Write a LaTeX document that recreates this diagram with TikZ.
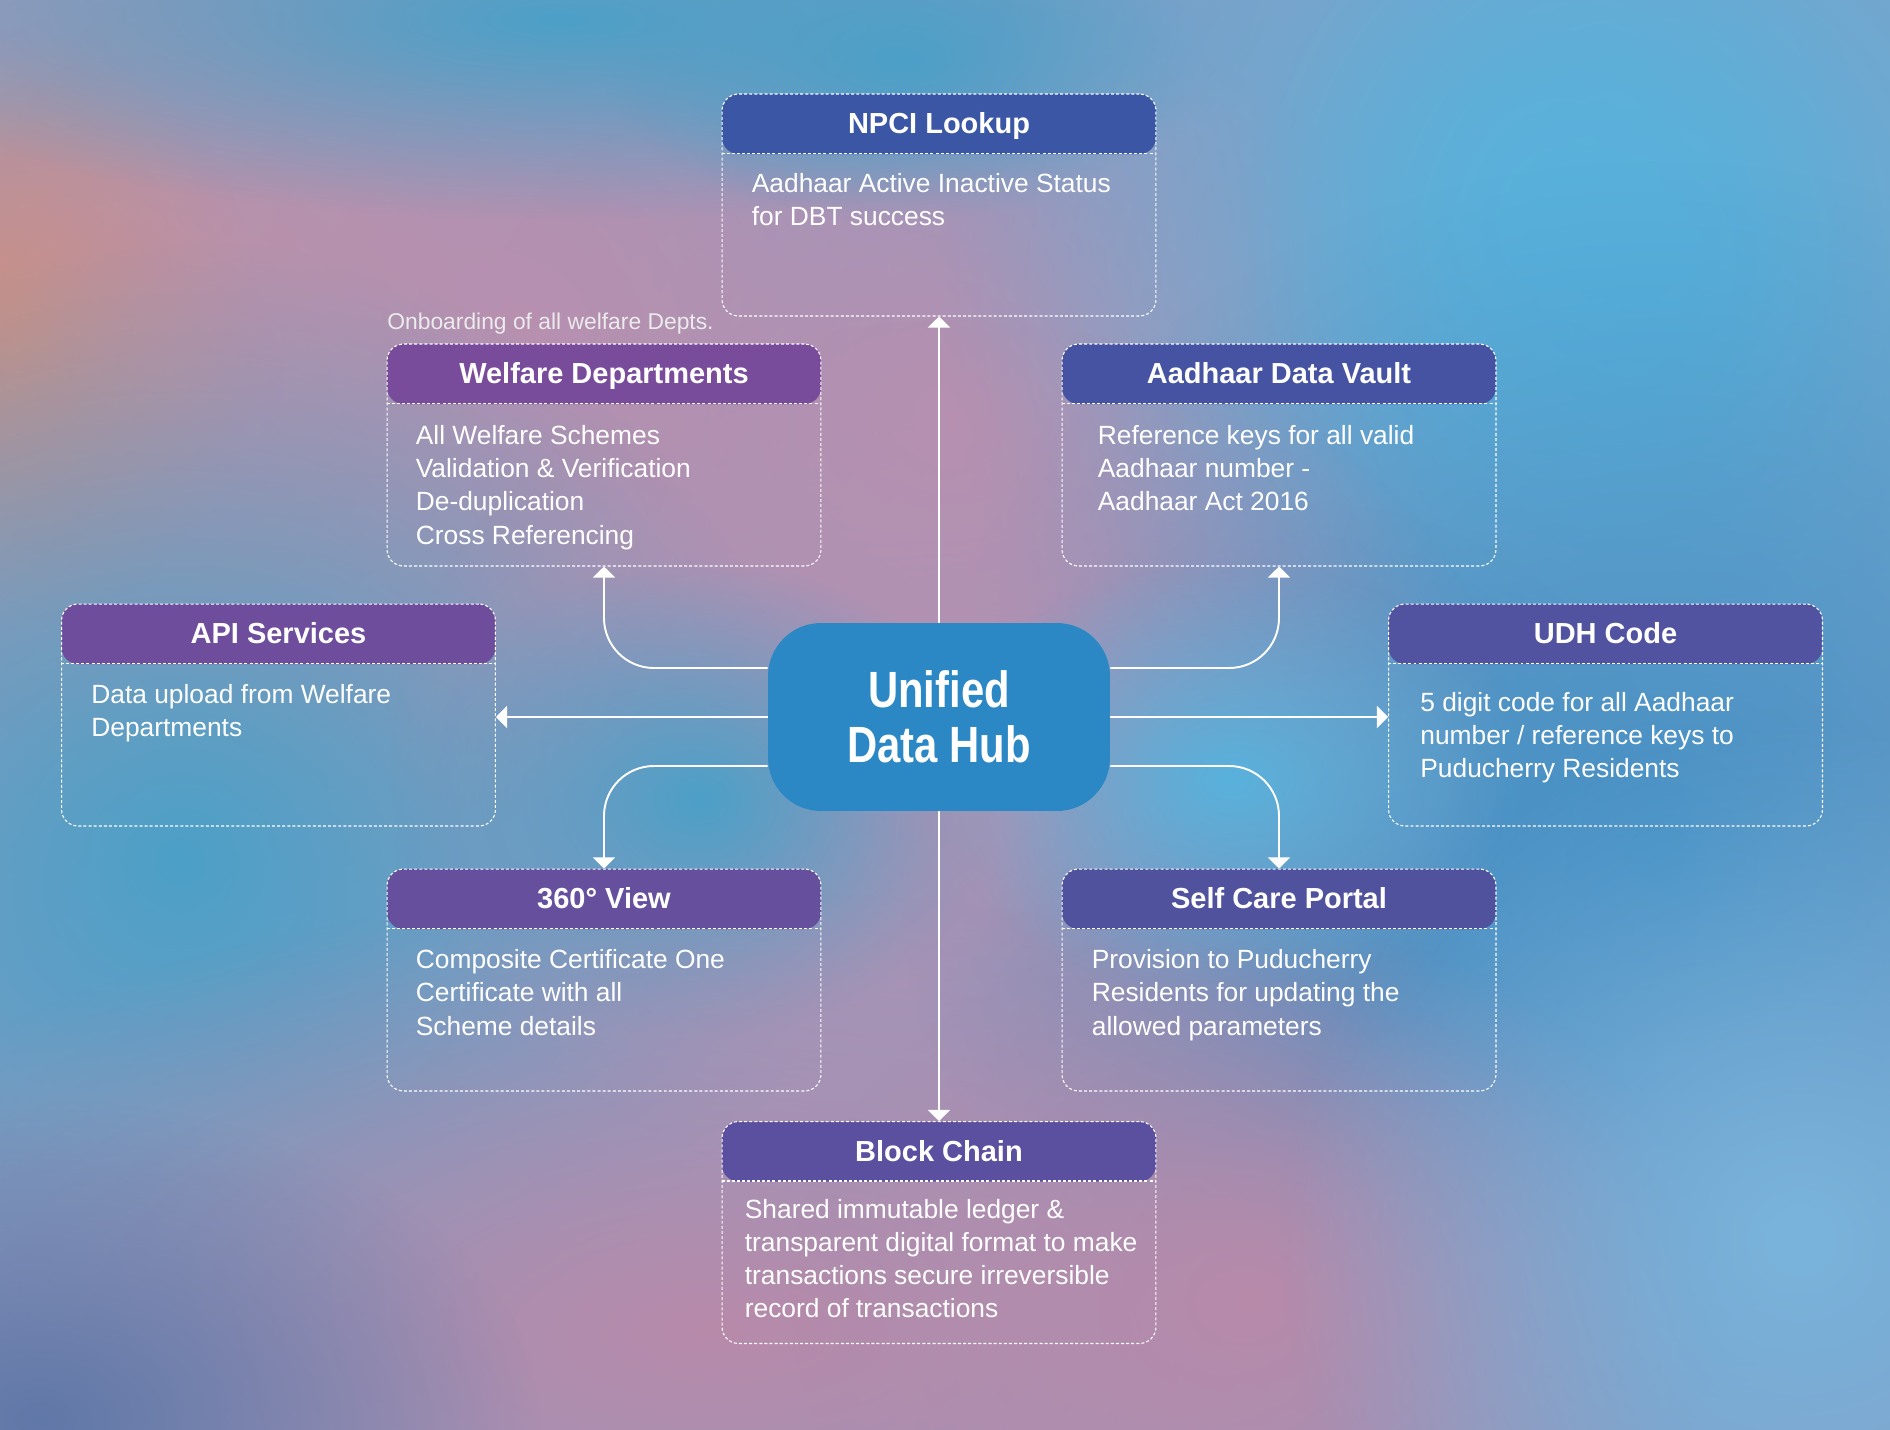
\documentclass[tikz,border=0pt]{standalone}
\usepackage{fontspec}
\setmainfont{Liberation Sans}
\newfontfamily\hubfont[FakeStretch=0.82]{Liberation Sans}
\usepackage{xcolor}
\usepackage{tikz}
\usetikzlibrary{arrows.meta,calc,positioning,fadings}
\definecolor{hubblue}{HTML}{2B88C4}
\definecolor{hdnpci}{HTML}{3A56A4}
\definecolor{hdwelfare}{HTML}{784B9B}
\definecolor{hdvault}{HTML}{4653A2}
\definecolor{hdapi}{HTML}{6E4D9C}
\definecolor{hdudh}{HTML}{5153A0}
\definecolor{hdview}{HTML}{66509E}
\definecolor{hdself}{HTML}{50529E}
\definecolor{hdchain}{HTML}{5B50A0}
\definecolor{bgbase}{HTML}{8E9CC2}
\definecolor{bgpink}{HTML}{C8919F}
\definecolor{bgmauve}{HTML}{B890B0}
\definecolor{bgteal}{HTML}{4CA0C8}
\definecolor{bgsky}{HTML}{58B2DC}
\definecolor{bgblue}{HTML}{4590C4}
\definecolor{bgrose}{HTML}{B88AAA}
\definecolor{bglight}{HTML}{7AB4DC}
\definecolor{bgdeep}{HTML}{6078A8}
\definecolor{bgpeach}{HTML}{CC9082}
\tikzfading[name=blobfade, inner color=transparent!0, outer color=transparent!100]
\tikzset{
  blob/.style={path fading=blobfade},
  panel/.style={
    rectangle,
    rounded corners=0.33cm,
    draw=white,
    line width=0.6pt,
    dash pattern=on 1.7pt off 1.2pt,
    minimum width=8.68cm,
    minimum height=4.44cm,
    inner sep=0pt
  },
  sepline/.style={draw=white, line width=0.6pt, dash pattern=on 1.7pt off 1.2pt},
  headtext/.style={font=\fontsize{16.5pt}{19pt}\selectfont\bfseries, text=white, inner sep=0pt, anchor=base},
  bodytext/.style={font=\fontsize{15pt}{18.8pt}\selectfont, text=white, align=left, inner sep=0pt, anchor=north west},
  notetext/.style={font=\fontsize{13pt}{15pt}\selectfont, text=white!92!black, inner sep=0pt, anchor=base west},
  hub/.style={
    rectangle,
    rounded corners=1.06cm,
    fill=hubblue,
    minimum width=6.84cm,
    minimum height=3.76cm,
    align=center,
    text=white,
    font=\hubfont\bfseries\fontsize{29pt}{31.3pt}\selectfont
  },
  flow/.style={draw=white, line width=1.1pt, -{Triangle[length=6.3pt,width=12.5pt]}},
  bendflow/.style={flow, rounded corners=1cm}
}
% #1 name, #2 centre, #3 header colour, #4 title, #5 body, #6 text inset, #7 text drop
\newcommand{\infobox}[7]{%
  \node[panel, path picture={\fill[#3] (path picture bounding box.north west) rectangle ([yshift=-1.2cm]path picture bounding box.north east);}] (#1) at (#2) {};
  \draw[sepline] ([yshift=-1.2cm]#1.north west) -- ([yshift=-1.2cm]#1.north east);
  \node[headtext] (#1-title) at ([yshift=-0.8cm]#1.north) {#4};
  \node[bodytext] (#1-body) at ([xshift=#6, yshift=#7]#1.north west) {#5};
}

\begin{document}
\begin{tikzpicture}[x=0.02cm,y=-0.02cm]
\useasboundingbox (0,0) rectangle (1890,1430);

% blurred backdrop
\begin{scope}
  \clip (0,0) rectangle (1890,1430);
  \fill[bgbase] (0,0) rectangle (1890,1430);
  \fill[bgpink, blob] (170,380) ellipse [x radius=620, y radius=600];
  \fill[bgpeach, blob] (20,330) ellipse [x radius=240, y radius=300];
  \fill[bgmauve, blob] (520,330) ellipse [x radius=560, y radius=480];
  \fill[bgmauve, blob] (960,420) ellipse [x radius=500, y radius=420];
  \fill[bgteal, blob] (560,20) ellipse [x radius=760, y radius=200];
  \fill[bgteal, blob] (900,60) ellipse [x radius=300, y radius=160];
  \fill[bgsky, blob] (1640,260) ellipse [x radius=700, y radius=760];
  \fill[bgsky, blob] (1560,220) ellipse [x radius=320, y radius=360];
  \fill[bgblue, blob] (1660,860) ellipse [x radius=760, y radius=700];
  \fill[bgblue, blob] (1300,900) ellipse [x radius=400, y radius=400];
  \fill[bgteal, blob] (180,860) ellipse [x radius=640, y radius=620];
  \fill[bgmauve, blob] (950,760) ellipse [x radius=560, y radius=440];
  \fill[bgteal, blob] (700,800) ellipse [x radius=300, y radius=240];
  \fill[bgsky, blob] (1230,780) ellipse [x radius=300, y radius=220];
  \fill[bgrose, blob] (720,1330) ellipse [x radius=1000, y radius=440];
  \fill[bgrose, blob] (1250,1300) ellipse [x radius=460, y radius=380];
  \fill[bglight, blob] (1800,1240) ellipse [x radius=520, y radius=520];
  \fill[bgdeep, blob] (40,1420) ellipse [x radius=500, y radius=320];
\end{scope}

\node[hub] (hub) at (939,717) {Unified\\Data Hub};

\infobox{npci}{939,205}{hdnpci}{NPCI Lookup}
  {Aadhaar Active Inactive Status\\for DBT success}{0.6cm}{-1.6cm}
\infobox{welfare}{604,455}{hdwelfare}{Welfare Departments}
  {All Welfare Schemes\\Validation \& Verification\\De-duplication\\Cross Referencing}{0.58cm}{-1.64cm}
\infobox{vault}{1279,455}{hdvault}{Aadhaar Data Vault}
  {Reference keys for all valid\\Aadhaar number -\\Aadhaar Act 2016}{0.72cm}{-1.64cm}
\infobox{api}{278.5,715}{hdapi}{API Services}
  {Data upload from Welfare\\Departments}{0.6cm}{-1.62cm}
\infobox{udh}{1605.5,715}{hdudh}{UDH Code}
  {5 digit code for all Aadhaar\\number / reference keys to\\Puducherry Residents}{0.64cm}{-1.78cm}
\infobox{view}{604,980}{hdview}{360° View}
  {Composite Certificate One\\Certificate with all\\Scheme details}{0.58cm}{-1.62cm}
\infobox{self}{1279,980}{hdself}{Self Care Portal}
  {Provision to Puducherry\\Residents for updating the\\allowed parameters}{0.6cm}{-1.62cm}
\infobox{chain}{939,1232.5}{hdchain}{Block Chain}
  {Shared immutable ledger \&\\transparent digital format to make\\transactions secure irreversible\\record of transactions}{0.46cm}{-1.56cm}

\node[notetext] (onboard) at (387,329) {Onboarding of all welfare Depts.};

\draw[flow] (hub.north) -- (npci.south);
\draw[flow] (hub.south) -- (chain.north);
\draw[flow] (hub.west) -- (hub.west -| api.east);
\draw[flow] (hub.east) -- (hub.east -| udh.west);
\draw[bendflow] ([yshift=0.98cm]hub.west) -| (welfare.south);
\draw[bendflow] ([yshift=0.98cm]hub.east) -| (vault.south);
\draw[bendflow] ([yshift=-0.98cm]hub.west) -| (view.north);
\draw[bendflow] ([yshift=-0.98cm]hub.east) -| (self.north);

\end{tikzpicture}
\end{document}
